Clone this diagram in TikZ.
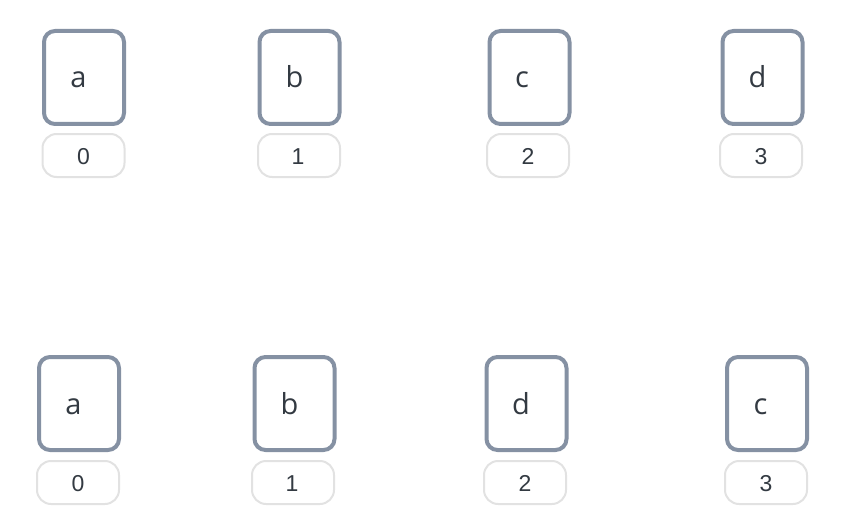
\documentclass[tikz,border=0pt]{standalone}
\usepackage{fontspec}
\newfontfamily\letterfont{Open Sans}
\newfontfamily\digitfont{Liberation Sans}
\definecolor{boxline}{HTML}{8591A3}
\definecolor{lblline}{HTML}{E2E2E2}
\definecolor{txt}{HTML}{333A42}
\tikzset{
  item/.style={draw=boxline, line width=4pt, rounded corners=11pt, fill=white,
    minimum width=80pt, minimum height=93pt, inner sep=0pt},
  itemtext/.style={text=txt, font=\letterfont\fontsize{29}{33}\selectfont, inner sep=0pt, anchor=base},
  idx/.style={draw=lblline, line width=2pt, rounded corners=14pt, fill=white,
    minimum width=82pt, minimum height=43pt, inner sep=0pt},
  idxtext/.style={text=txt, font=\digitfont\fontsize{23}{27}\selectfont, inner sep=0pt, anchor=base}
}
\begin{document}
\begin{tikzpicture}[x=1pt,y=-1pt]
\useasboundingbox (0,0) rectangle (848,524);
% top row
\node[item] (ta) at (84,77.5) {};
\node[itemtext] (tat) at (78.5,88) {a};
\node[idx] (t0) at (83.5,155.5) {};
\node[idxtext] (t0t) at (83.5,164.5) {0};
\node[item] (tb) at (299.5,77.5) {};
\node[itemtext] (tbt) at (294.5,88) {b};
\node[idx] (t1) at (299,155.5) {};
\node[idxtext] (t1t) at (298,164.5) {1};
\node[item] (tc) at (529.5,77.5) {};
\node[itemtext] (tct) at (522,88) {c};
\node[idx] (t2) at (528,155.5) {};
\node[idxtext] (t2t) at (528,164.5) {2};
\node[item] (td) at (762.5,77.5) {};
\node[itemtext] (tdt) at (757.5,88) {d};
\node[idx] (t3) at (761,155.5) {};
\node[idxtext] (t3t) at (761,164.5) {3};
% bottom row
\node[item] (ba) at (79,403.5) {};
\node[itemtext] (bat) at (73.5,414) {a};
\node[idx] (b0) at (78,482.5) {};
\node[idxtext] (b0t) at (78,491.5) {0};
\node[item] (bb) at (294.5,403.5) {};
\node[itemtext] (bbt) at (289.5,414) {b};
\node[idx] (b1) at (293,482.5) {};
\node[idxtext] (b1t) at (292,491.5) {1};
\node[item] (bd) at (526.5,403.5) {};
\node[itemtext] (bdt) at (521,414) {d};
\node[idx] (b2) at (525,482.5) {};
\node[idxtext] (b2t) at (525,491.5) {2};
\node[item] (bc) at (767,403.5) {};
\node[itemtext] (bct) at (760.5,414) {c};
\node[idx] (b3) at (766,482.5) {};
\node[idxtext] (b3t) at (766,491.5) {3};
\end{tikzpicture}
\end{document}
